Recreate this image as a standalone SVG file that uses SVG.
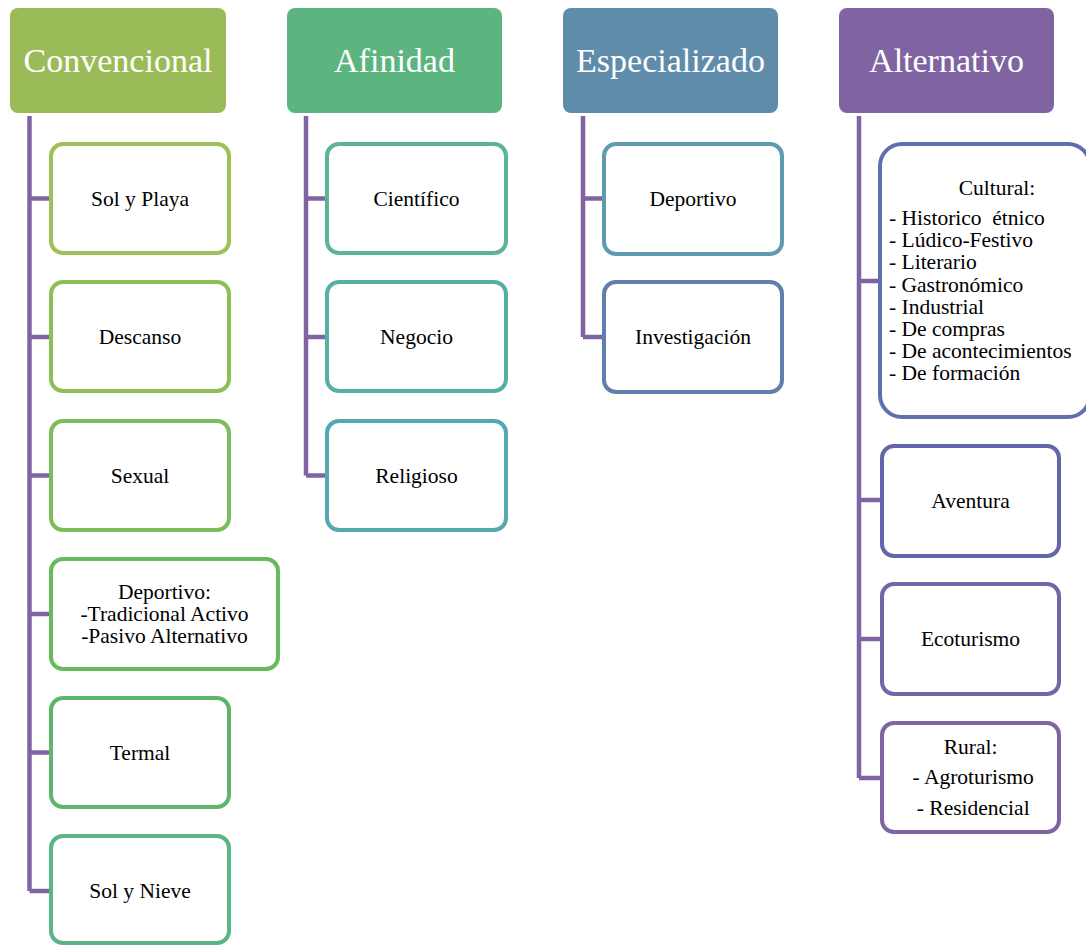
<svg xmlns="http://www.w3.org/2000/svg" width="1086" height="946" viewBox="0 0 1086 946">
<style>
.hdr{stroke:none}
.ht{font-family:"Liberation Serif",serif;font-size:34px;fill:#fff;text-anchor:middle}
.box{fill:#fff;stroke-width:4}
.t{font-family:"Liberation Serif",serif;font-size:21.5px;fill:#000;text-anchor:middle}
.tl{font-family:"Liberation Serif",serif;font-size:21.5px;fill:#000}
.con{fill:none;stroke:#8064A2;stroke-width:4.5}
</style>
<rect width="1086" height="946" fill="#fff"/>
<g id="connectors">
<path class="con" d="M29.5,116 V891 M29.5,198.5 H50 M29.5,337 H50 M29.5,475.5 H50 M29.5,614 H50 M29.5,752.5 H50 M29.5,891 H50"/>
<path class="con" d="M306,116 V475.5 M306,198.5 H326 M306,337 H326 M306,475.5 H326"/>
<path class="con" d="M583,116 V337 M583,198.5 H603 M583,337 H603"/>
<path class="con" d="M859,116 V778 M859,281 H879 M859,500 H881 M859,639 H881 M859,778 H881"/>
</g>
<g id="h-convencional"><rect class="hdr" x="10" y="8" width="216" height="105" rx="8" fill="#9BBB59"/><text class="ht" x="118" y="72">Convencional</text></g>
<g id="h-afinidad"><rect class="hdr" x="287" y="8" width="215" height="105" rx="8" fill="#5CB57F"/><text class="ht" x="394.5" y="72">Afinidad</text></g>
<g id="h-especializado"><rect class="hdr" x="563" y="8" width="215" height="105" rx="8" fill="#5F8CAB"/><text class="ht" x="670.5" y="72">Especializado</text></g>
<g id="h-alternativo"><rect class="hdr" x="839" y="8" width="215" height="105" rx="8" fill="#8064A2"/><text class="ht" x="946.5" y="72">Alternativo</text></g>

<g id="n-solplaya"><rect class="box" x="51" y="144" width="178" height="109" rx="12" stroke="#9EBF59"/><text class="t" x="140" y="205.5">Sol y Playa</text></g>
<g id="n-descanso"><rect class="box" x="51" y="282" width="178" height="109" rx="12" stroke="#8DBE58"/><text class="t" x="140" y="344">Descanso</text></g>
<g id="n-sexual"><rect class="box" x="51" y="421" width="178" height="109" rx="12" stroke="#7BBD5A"/><text class="t" x="140" y="482.5">Sexual</text></g>
<g id="n-deportivo1"><rect class="box" x="51" y="559" width="227" height="110" rx="12" stroke="#68BA5F"/><text class="t" x="164.5" y="599">Deportivo:</text><text class="t" x="164.5" y="621">-Tradicional Activo</text><text class="t" x="164.5" y="643">-Pasivo Alternativo</text></g>
<g id="n-termal"><rect class="box" x="51" y="698" width="178" height="109" rx="12" stroke="#5EB66D"/><text class="t" x="140" y="759.5">Termal</text></g>
<g id="n-solnieve"><rect class="box" x="51" y="836" width="178" height="107" rx="12" stroke="#5BB388"/><text class="t" x="140" y="898">Sol y Nieve</text></g>

<g id="n-cientifico"><rect class="box" x="327" y="144" width="179" height="109" rx="12" stroke="#5BB594"/><text class="t" x="416.5" y="205.5">Científico</text></g>
<g id="n-negocio"><rect class="box" x="327" y="282" width="179" height="109" rx="12" stroke="#56B0A2"/><text class="t" x="416.5" y="344">Negocio</text></g>
<g id="n-religioso"><rect class="box" x="327" y="421" width="179" height="109" rx="12" stroke="#55A8AF"/><text class="t" x="416.5" y="482.5">Religioso</text></g>

<g id="n-deportivo2"><rect class="box" x="604" y="144" width="178" height="110" rx="12" stroke="#5E9AB0"/><text class="t" x="693" y="205.5">Deportivo</text></g>
<g id="n-investigacion"><rect class="box" x="604" y="282" width="178" height="110" rx="12" stroke="#5F7FAC"/><text class="t" x="693" y="344">Investigación</text></g>

<g id="n-cultural"><rect class="box" x="880" y="144" width="210" height="273" rx="22" stroke="#5F70AD"/>
<text class="t" x="997" y="195">Cultural:</text>
<text class="tl" x="889" y="225" xml:space="preserve">- Historico  étnico</text>
<text class="tl" x="889" y="247">- Lúdico-Festivo</text>
<text class="tl" x="889" y="269">- Literario</text>
<text class="tl" x="889" y="292">- Gastronómico</text>
<text class="tl" x="889" y="314">- Industrial</text>
<text class="tl" x="889" y="336">- De compras</text>
<text class="tl" x="889" y="358">- De acontecimientos</text>
<text class="tl" x="889" y="380">- De formación</text></g>
<g id="n-aventura"><rect class="box" x="882" y="446" width="177" height="110" rx="12" stroke="#6565A9"/><text class="t" x="970.5" y="507.5">Aventura</text></g>
<g id="n-ecoturismo"><rect class="box" x="882" y="584" width="177" height="110" rx="12" stroke="#7266A8"/><text class="t" x="970.5" y="646">Ecoturismo</text></g>
<g id="n-rural"><rect class="box" x="882" y="723" width="177" height="109" rx="12" stroke="#8064A2"/><text class="t" x="970.5" y="754">Rural:</text><text class="t" x="970.5" y="784" xml:space="preserve"> - Agroturismo</text><text class="t" x="970.5" y="815" xml:space="preserve"> - Residencial</text></g>
</svg>
